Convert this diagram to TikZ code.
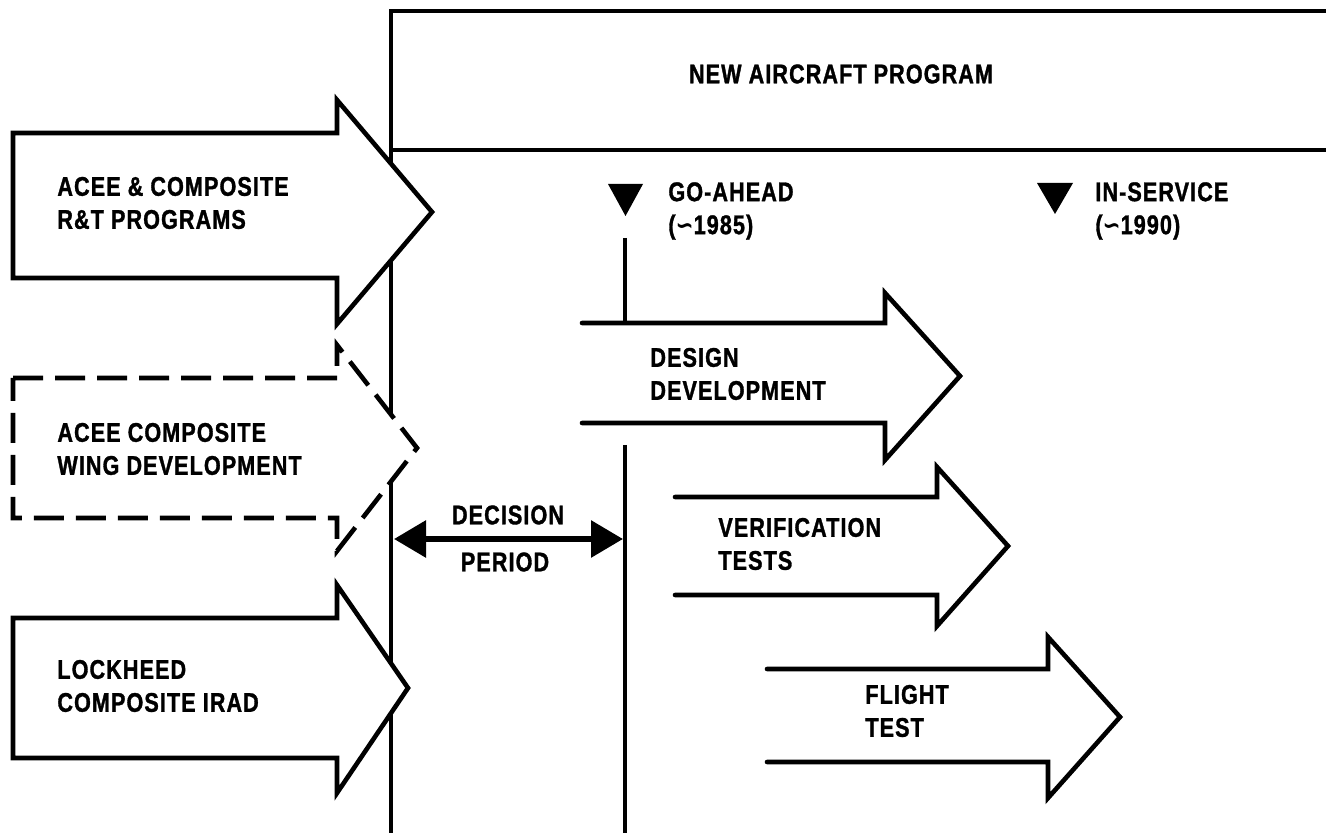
\documentclass[tikz,border=0pt]{standalone}
\usepackage{fontspec}
\setmainfont{Liberation Sans}[FakeStretch=0.8,LetterSpace=4,BoldFeatures={FakeBold=1.2}]
\newfontfamily\dejavu{DejaVu Sans}[FakeStretch=0.8]
\usetikzlibrary{arrows.meta}
\tikzset{
  frame/.style={line width=2.4pt, line cap=butt},
  bigarrow/.style={line width=2.3pt, fill=white, line join=miter},
  dasharrow/.style={bigarrow, dash pattern=on 15pt off 6pt},
  openarrow/.style={line width=2.3pt, line join=miter, line cap=round},
  lbl/.style={font=\fontsize{13.5}{16.5}\selectfont\bfseries, align=left, anchor=west, inner sep=0pt},
  clbl/.style={font=\fontsize{13.5}{16.5}\selectfont\bfseries, inner sep=0pt},
  marker/.style={fill=black, draw=none},
  span/.style={line width=3pt, {Triangle[length=16pt,width=18pt]}-{Triangle[length=16pt,width=18pt]}}
}
\newcommand{\tld}{{\dejavu\bfseries ∽}}
\begin{document}
\begin{tikzpicture}[x=0.5pt,y=-0.5pt]
\useasboundingbox (0,0) rectangle (1326,833);
% frame
\coordinate (frTR) at (1326,11);
\coordinate (frTL) at (391,11);
\coordinate (frBL) at (391,833);
\coordinate (frML) at (391,150);
\coordinate (frMR) at (1326,150);
\draw[frame] (frTR) -- (frTL) -- (frBL);
\draw[frame] (frML) -- (frMR);
\node[clbl] (title) at (841,74) {NEW AIRCRAFT PROGRAM};
% go-ahead line
\coordinate (gaTop) at (625,238);
\coordinate (gaMid) at (625,323);
\coordinate (gaLow) at (625,445);
\coordinate (gaBot) at (625,833);
\draw[frame] (gaTop) -- (gaMid);
\draw[frame] (gaLow) -- (gaBot);
% milestones
\draw[marker] (608,184) -- (643,184) -- (625.5,216) -- cycle;
\node[lbl] (goahead) at (668,211) {GO-AHEAD\\(\tld1985)};
\draw[marker] (1037,183) -- (1073,183) -- (1055,214) -- cycle;
\node[lbl] (inservice) at (1095,211) {IN-SERVICE\\(\tld1990)};
% input arrows
\draw[bigarrow] (13,133) -- (337,133) -- (337,100) -- (432,212) -- (337,324) -- (337,278) -- (13,278) -- cycle;
\node[lbl] (acee) at (57,203) {ACEE \& COMPOSITE\\R\&T PROGRAMS};
\draw[dasharrow] (13,378) -- (337,378) -- (337,345) -- (417,448) -- (337,551) -- (337,518) -- (13,518) -- cycle;
\node[lbl] (wing) at (57,449) {ACEE COMPOSITE\\WING DEVELOPMENT};
\draw[bigarrow] (13,618) -- (337,618) -- (337,585) -- (408,688) -- (337,793) -- (337,758) -- (13,758) -- cycle;
\node[lbl] (irad) at (57,686) {LOCKHEED\\COMPOSITE IRAD};
% program arrows
\draw[openarrow] (582,323) -- (885,323) -- (885,293) -- (960,376) -- (885,460) -- (885,423) -- (582,423);
\node[lbl] (design) at (650,374) {DESIGN\\DEVELOPMENT};
\draw[openarrow] (675,497) -- (937,497) -- (937,467) -- (1008,546) -- (937,626) -- (937,595) -- (675,595);
\node[lbl] (verif) at (718,544) {VERIFICATION\\TESTS};
\draw[openarrow] (767,669) -- (1048,669) -- (1048,637) -- (1120,717) -- (1048,798) -- (1048,762) -- (767,762);
\node[lbl] (flight) at (865,711) {FLIGHT\\TEST};
% decision period
\coordinate (decL) at (394,539);
\coordinate (decR) at (623,539);
\draw[span] (decL) -- (decR);
\node[clbl] (decision) at (508,515) {DECISION};
\node[clbl] (period) at (505,562) {PERIOD};
\end{tikzpicture}
\end{document}
